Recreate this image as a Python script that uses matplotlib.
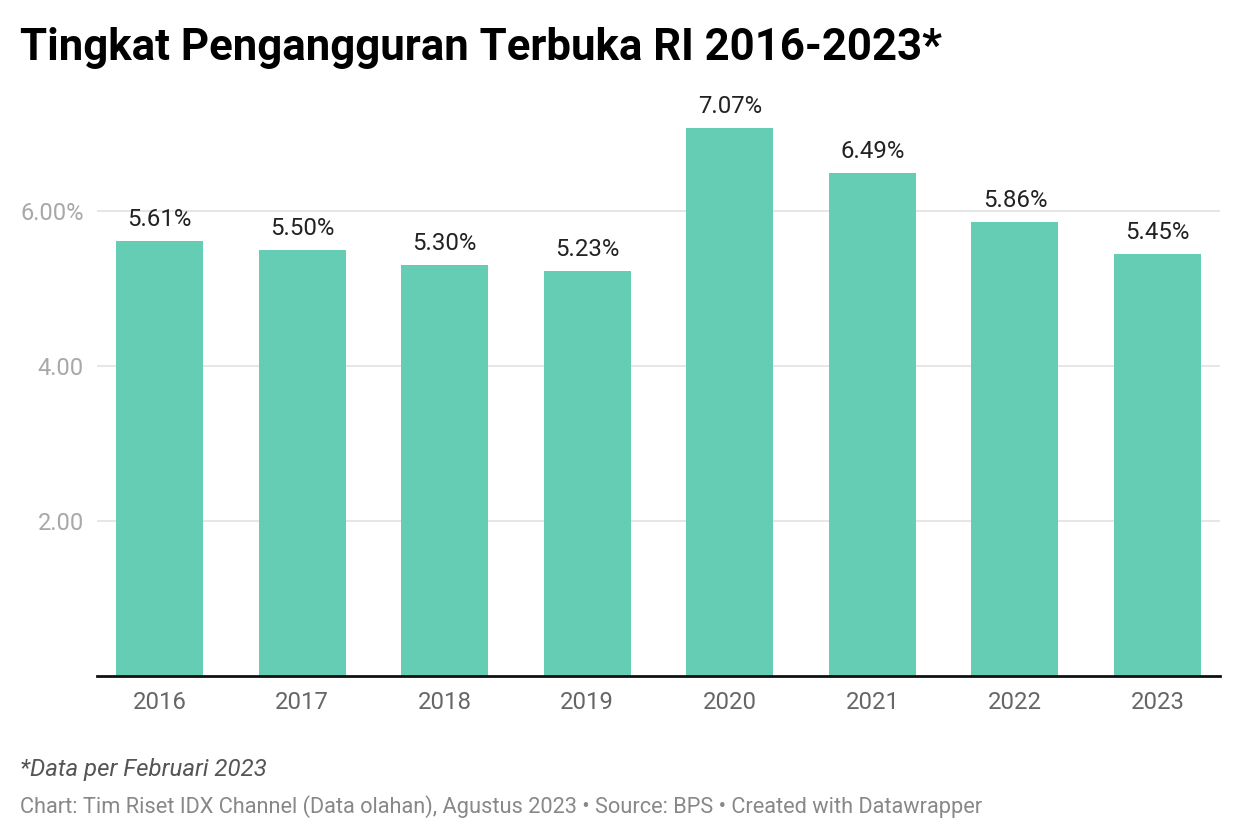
import matplotlib.pyplot as plt
import numpy as np

plt.rcParams['font.family'] = ['Roboto', 'DejaVu Sans']

years = ["2016", "2017", "2018", "2019", "2020", "2021", "2022", "2023"]
rates = [5.61, 5.50, 5.30, 5.23, 7.07, 6.49, 5.86, 5.45]
y_ticks = [2, 4, 6]
y_tick_labels = ["2.00", "4.00", "6.00%"]

title = "Tingkat Pengangguran Terbuka RI 2016-2023*"
note = "*Data per Februari 2023"
source = "Chart: Tim Riset IDX Channel (Data olahan), Agustus 2023 \u2022 Source: BPS \u2022 Created with Datawrapper"

fig = plt.figure(figsize=(12.4, 8.4), dpi=100)
ax = fig.add_axes([0.0782, 0.1952, 0.9057, 0.7012])

x = np.arange(len(years))
bars = ax.bar(x, rates, width=0.61, color="#65cdb4", zorder=3)

for xi, v in zip(x, rates):
    ax.text(xi, v + 0.13, "%.2f%%" % v, ha="center", va="bottom",
            fontsize=17.3, color="#222222", clip_on=False)

ax.set_xlim(-0.438, len(years) - 1 + 0.438)
ax.set_ylim(0, 7.6)
ax.set_xticks(x)
ax.set_xticklabels(years)
ax.set_yticks(y_ticks)
ax.set_yticklabels(y_tick_labels)
ax.tick_params(axis="x", length=0, pad=11, labelsize=17.2, labelcolor="#666666")
ax.tick_params(axis="y", length=0, pad=9.4, labelsize=17, labelcolor="#a8a8a8")
ax.grid(axis="y", color="#e2e2e2", linewidth=1.2, zorder=0)

for s in ["top", "right", "left"]:
    ax.spines[s].set_visible(False)
ax.spines["bottom"].set_color("#111111")
ax.spines["bottom"].set_linewidth(2)
ax.spines["bottom"].set_zorder(4)

fig.text(0.016, 0.943, title, fontsize=31.5, fontweight="bold", color="#000000",
         ha="left", va="center")
fig.text(0.016, 0.084, note, fontsize=17.3, style="italic", color="#555555",
         ha="left", va="center")
fig.text(0.016, 0.040, source, fontsize=15.7, color="#888888",
         ha="left", va="center")

fig.savefig("out.png", dpi=100)
